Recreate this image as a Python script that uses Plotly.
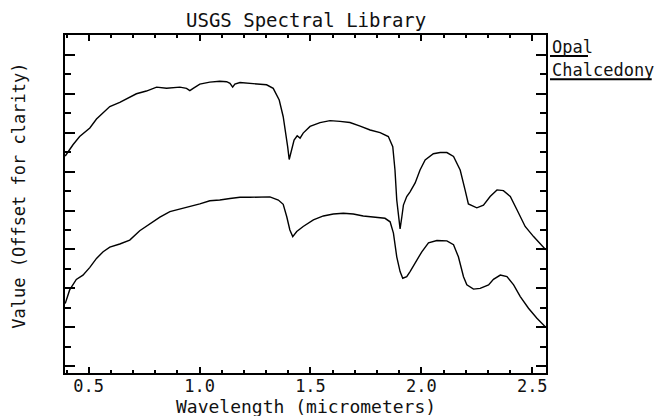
import plotly.graph_objects as go

# Wavelength (micrometers) and offset values
opal_wavelength = [0.394, 0.429, 0.459, 0.505, 0.535, 0.565, 0.595, 0.640, 0.670, 0.715,
                   0.760, 0.806, 0.851, 0.911, 0.941, 0.956, 0.971, 1.001, 1.046, 1.091,
                   1.122, 1.137, 1.149, 1.159, 1.182, 1.227, 1.272, 1.302, 1.332, 1.359,
                   1.377, 1.389, 1.397, 1.404, 1.415, 1.426, 1.440, 1.453, 1.467, 1.498,
                   1.543, 1.588, 1.633, 1.678, 1.724, 1.769, 1.814, 1.851, 1.871, 1.881,
                   1.889, 1.896, 1.904, 1.912, 1.919, 1.934, 1.949, 1.972, 1.994, 2.017,
                   2.054, 2.085, 2.115, 2.145, 2.175, 2.197, 2.212, 2.250, 2.280, 2.310,
                   2.341, 2.370, 2.401, 2.431, 2.468, 2.506, 2.561]
opal_value = [0.540, 0.569, 0.590, 0.612, 0.635, 0.652, 0.667, 0.678, 0.686, 0.700,
              0.707, 0.717, 0.714, 0.717, 0.714, 0.708, 0.714, 0.725, 0.730, 0.732,
              0.731, 0.727, 0.717, 0.725, 0.729, 0.727, 0.725, 0.723, 0.714, 0.684,
              0.641, 0.599, 0.564, 0.531, 0.556, 0.581, 0.592, 0.586, 0.599, 0.616,
              0.626, 0.631, 0.629, 0.626, 0.617, 0.607, 0.600, 0.590, 0.564, 0.504,
              0.427, 0.384, 0.353, 0.384, 0.414, 0.436, 0.448, 0.471, 0.504, 0.530,
              0.546, 0.549, 0.549, 0.539, 0.504, 0.453, 0.417, 0.407, 0.414, 0.436,
              0.453, 0.451, 0.436, 0.402, 0.359, 0.333, 0.299]

chalcedony_wavelength = [0.394, 0.414, 0.444, 0.474, 0.505, 0.535, 0.565, 0.595, 0.640, 0.685,
                         0.730, 0.775, 0.821, 0.866, 0.911, 0.956, 1.001, 1.046, 1.091, 1.137,
                         1.182, 1.227, 1.272, 1.317, 1.355, 1.377, 1.393, 1.407, 1.420, 1.438,
                         1.467, 1.513, 1.558, 1.603, 1.648, 1.693, 1.738, 1.784, 1.836, 1.859,
                         1.874, 1.889, 1.904, 1.916, 1.934, 1.949, 1.972, 2.002, 2.032, 2.070,
                         2.115, 2.145, 2.167, 2.190, 2.205, 2.235, 2.265, 2.303, 2.325, 2.356,
                         2.386, 2.416, 2.446, 2.483, 2.521, 2.561]
chalcedony_value = [0.161, 0.196, 0.223, 0.234, 0.254, 0.277, 0.294, 0.306, 0.314, 0.324,
                    0.348, 0.366, 0.383, 0.397, 0.403, 0.410, 0.417, 0.425, 0.427, 0.431,
                    0.434, 0.434, 0.434, 0.435, 0.427, 0.416, 0.384, 0.350, 0.333, 0.346,
                    0.359, 0.376, 0.386, 0.391, 0.393, 0.391, 0.386, 0.383, 0.380, 0.371,
                    0.342, 0.281, 0.243, 0.226, 0.230, 0.243, 0.265, 0.294, 0.317, 0.323,
                    0.322, 0.312, 0.281, 0.230, 0.209, 0.198, 0.200, 0.209, 0.223, 0.234,
                    0.230, 0.209, 0.179, 0.149, 0.123, 0.100]

series_names = ["Opal", "Chalcedony"]
x_tick_values = [0.5, 1.0, 1.5, 2.0, 2.5]
x_tick_labels = ["0.5", "1.0", "1.5", "2.0", "2.5"]

FONT = "DejaVu Sans Mono"
INK = "#111111"

fig = go.Figure()
fig.add_trace(go.Scatter(x=opal_wavelength, y=opal_value, mode="lines",
                         name=series_names[0], line=dict(color="black", width=1.4)))
fig.add_trace(go.Scatter(x=chalcedony_wavelength, y=chalcedony_value, mode="lines",
                         name=series_names[1], line=dict(color="black", width=1.4)))

# The page body has an 8px margin, so the figure is offset by 8px; margins compensate.
fig.update_layout(
    width=665, height=416,
    margin=dict(l=57, r=127, t=27, b=51),
    paper_bgcolor="white", plot_bgcolor="white",
    showlegend=False,
    font=dict(family=FONT, size=17, color=INK),
)

fig.update_xaxes(
    range=[0.393, 2.562], showgrid=False, zeroline=False,
    showline=True, linecolor="black", linewidth=2, mirror="ticks",
    ticks="inside", ticklen=6, tickwidth=1.5, tickcolor="black",
    tickvals=x_tick_values, ticktext=x_tick_labels,
    tickfont=dict(family=FONT, size=17, color=INK),
    ticklabelstandoff=-3,
    minor=dict(dtick=0.1, tick0=0.5, ticks="inside", ticklen=3, tickwidth=1.5, tickcolor="black"),
)
fig.update_yaxes(
    range=[-0.0175, 0.851], showgrid=False, zeroline=False,
    showline=True, linecolor="black", linewidth=2, mirror="ticks",
    ticks="inside", ticklen=10, tickwidth=1.5, tickcolor="black",
    tick0=0, dtick=0.1, showticklabels=False,
    minor=dict(dtick=0.05, tick0=0, ticks="inside", ticklen=6, tickwidth=1.5, tickcolor="black"),
)

annotations = [
    dict(text="USGS Spectral Library", xref="paper", yref="paper", x=0.5, y=1,
         xanchor="center", yanchor="bottom", yshift=2, showarrow=False,
         font=dict(family=FONT, size=19, color=INK)),
    dict(text="Wavelength (micrometers)", xref="paper", yref="paper", x=0.5, y=0,
         xanchor="center", yanchor="top", yshift=-21, showarrow=False,
         font=dict(family=FONT, size=18, color=INK)),
    dict(text="Value (Offset for clarity)", xref="paper", yref="paper", x=-0.096, y=0.524,
         xanchor="center", yanchor="middle", textangle=-90, showarrow=False,
         font=dict(family=FONT, size=17, color=INK)),
    dict(text=series_names[0], xref="paper", yref="paper", x=1.0083, y=0.9645,
         xanchor="left", yanchor="middle", showarrow=False,
         font=dict(family=FONT, size=17, color=INK)),
    dict(text=series_names[1], xref="paper", yref="paper", x=1.0083, y=0.8964,
         xanchor="left", yanchor="middle", showarrow=False,
         font=dict(family=FONT, size=17, color=INK)),
]
fig.update_layout(annotations=annotations)

fig.add_shape(type="line", xref="paper", yref="paper", x0=1.0083, x1=1.0873, y0=0.9379, y1=0.9379,
              line=dict(color="black", width=2))
fig.add_shape(type="line", xref="paper", yref="paper", x0=1.0083, x1=1.2198, y0=0.869, y1=0.869,
              line=dict(color="black", width=2))

fig.write_html("out.html")
